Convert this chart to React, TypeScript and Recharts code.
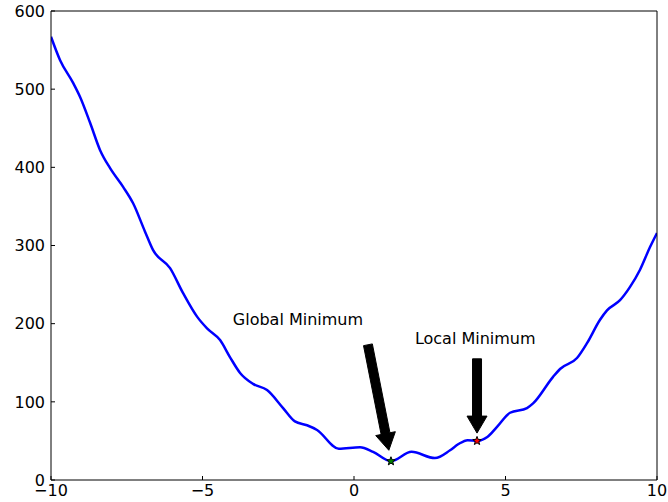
import React from 'react'
import { ComposedChart, Line, Scatter, XAxis, YAxis, ReferenceLine, ReferenceDot } from 'recharts'

// curve samples
const xs = [
  -10, -9.7, -9.27, -9.04, -8.71, -8.38, -8.05, -7.62, -7.29, -6.9, -6.63, -6.07, -5.64, -5.18,
  -4.85, -4.42, -4.09, -3.76, -3.33, -2.87, -2.34, -1.95, -1.55, -1.22, -0.5, 0.2, 0.63, 1.22,
  1.9, 2.67, 3.17, 3.45, 3.75, 4.06, 4.4, 4.72, 5.15, 5.71, 5.91, 6.57, 6.8, 7.36, 7.69, 8.12,
  8.35, 8.78, 9.11, 9.44, 9.77, 10
]
const ys = [
  567, 537, 508, 490, 457, 422, 399, 375, 354, 318, 294, 271, 239, 209,
  194, 179, 157, 137, 123, 115, 92, 75, 70, 64, 40, 42, 36, 24,
  36, 28, 38, 46, 51, 50, 55, 68, 86, 92, 98, 132, 142, 156, 175, 205,
  217, 230, 247, 269, 298, 316
]

const xTicks = [-10, -5, 0, 5, 10]
const yTicks = [0, 100, 200, 300, 400, 500, 600]

// minima markers
const globalMin = [{ x: 1.22, y: 24 }]
const localMin = [{ x: 4.06, y: 50 }]

// annotations: label position and arrow (from -> to), data coordinates
const labels = ['Global Minimum', 'Local Minimum']
const labelPos = [{ x: -4, y: 198 }, { x: 2.01, y: 174 }]
const arrowFrom = [{ x: 0.46, y: 173 }, { x: 4.06, y: 155 }]
const arrowTo = [{ x: 1.15, y: 38 }, { x: 4.06, y: 60 }]

const data = xs.map((x, i) => ({ x, y: ys[i] }))

const FONT = 'DejaVu Sans, Bitstream Vera Sans, sans-serif'

function fmt(v: number) {
  return v < 0 ? '\u2212' + Math.abs(v) : String(v)
}

function Arrow(props: any) {
  const { x1, y1, x2, y2 } = props
  const dx = x2 - x1
  const dy = y2 - y1
  const len = Math.sqrt(dx * dx + dy * dy)
  const ux = dx / len
  const uy = dy / len
  const px = -uy
  const py = ux
  const w = 4.5
  const hw = 10
  const hl = 17
  const bx = x2 - ux * hl
  const by = y2 - uy * hl
  const pts = [
    [x1 + px * w, y1 + py * w],
    [bx + px * w, by + py * w],
    [bx + px * hw, by + py * hw],
    [x2, y2],
    [bx - px * hw, by - py * hw],
    [bx - px * w, by - py * w],
    [x1 - px * w, y1 - py * w]
  ]
  return <polygon points={pts.map(p => p.join(',')).join(' ')} fill="#000" stroke="#000" strokeWidth={1} />
}

function Star({ cx, cy, fill }: any) {
  const R = 4.5
  const r = 1.9
  const pts: string[] = []
  for (let i = 0; i < 10; i++) {
    const a = -Math.PI / 2 + (i * Math.PI) / 5
    const rr = i % 2 === 0 ? R : r
    pts.push(`${cx + rr * Math.cos(a)},${cy + rr * Math.sin(a)}`)
  }
  return <polygon points={pts.join(' ')} fill={fill} stroke="#000" strokeWidth={1} />
}

export default function App() {
  const tickStyle = { fill: '#000', fontSize: 16, fontFamily: FONT }
  return (
    <div style={{ position: 'absolute', left: 0, top: 0, width: 668, height: 502, background: '#fff' }}>
      <ComposedChart width={668} height={502} data={data} margin={{ top: 0, right: 0, bottom: 0, left: 0 }}>
        <XAxis
          type="number"
          dataKey="x"
          domain={[-10, 10]}
          ticks={xTicks}
          tickFormatter={fmt}
          height={22}
          tickSize={-4}
          tickMargin={9}
          tick={tickStyle}
          axisLine={{ stroke: '#000', strokeWidth: 1 }}
          tickLine={{ stroke: '#000' }}
          allowDataOverflow
        />
        <XAxis
          xAxisId="top"
          orientation="top"
          type="number"
          domain={[-10, 10]}
          ticks={xTicks}
          height={11}
          tickSize={-4}
          tick={false}
          axisLine={{ stroke: '#000', strokeWidth: 1 }}
          tickLine={{ stroke: '#000' }}
        />
        <YAxis
          type="number"
          domain={[0, 600]}
          ticks={yTicks}
          width={51}
          tickSize={-4}
          tickMargin={10}
          tick={tickStyle}
          axisLine={{ stroke: '#000', strokeWidth: 1 }}
          tickLine={{ stroke: '#000' }}
          allowDataOverflow
        />
        <YAxis
          yAxisId="right"
          orientation="right"
          type="number"
          domain={[0, 600]}
          ticks={yTicks}
          width={11}
          tickSize={-4}
          tick={false}
          axisLine={{ stroke: '#000', strokeWidth: 1 }}
          tickLine={{ stroke: '#000' }}
        />
        <Line
          dataKey="y"
          type="monotone"
          stroke="#0000ff"
          strokeWidth={2.5}
          dot={false}
          activeDot={false}
          isAnimationActive={false}
        />
        {labels.map((t, i) => (
          <ReferenceLine
            key={'a' + i}
            segment={[arrowFrom[i], arrowTo[i]]}
            shape={Arrow}
            ifOverflow="visible"
          />
        ))}
        <Scatter data={globalMin} dataKey="y" shape={(p: any) => <Star {...p} fill="#008000" />} isAnimationActive={false} />
        <Scatter data={localMin} dataKey="y" shape={(p: any) => <Star {...p} fill="#ff0000" />} isAnimationActive={false} />
        {labels.map((t, i) => (
          <ReferenceDot
            key={'t' + i}
            x={labelPos[i].x}
            y={labelPos[i].y}
            ifOverflow="visible"
            shape={(p: any) => (
              <text x={p.cx} y={p.cy} fontSize={16} fontFamily={FONT} fill="#000">{t}</text>
            )}
          />
        ))}
      </ComposedChart>
    </div>
  )
}
